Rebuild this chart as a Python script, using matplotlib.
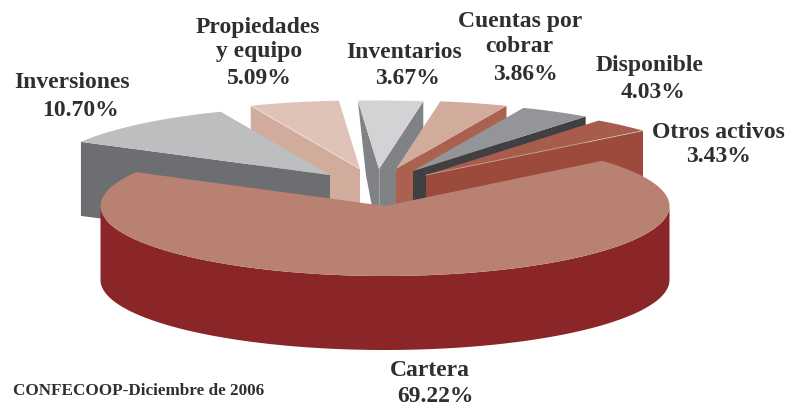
import numpy as np
import matplotlib
matplotlib.use("Agg")
import matplotlib.pyplot as plt

# valores de la grafica, en el orden de la torta
names = ["Cartera", "Otros activos", "Disponible", "Cuentas por\ncobrar",
         "Inventarios", "Propiedades\ny equipo", "Inversiones"]
values = [69.22, 3.43, 4.03, 3.86, 3.67, 5.09, 10.70]

top_colors = ["#B98171", "#A85C4C", "#939598", "#D1AC9D", "#D1D3D4", "#DFC3B9", "#BCBEC0"]
wall_colors = ["#8A2528", "#9B4A3C", "#404042", "#AB6150", "#808285", "#D1AC9D", "#6D6E71"]

# vertice de cada porcion (pixeles)
apex_x = [385, 426, 413, 396, 379, 360, 330]
apex_y = [206, 175, 171, 169, 169, 169, 175]

# centro de cada linea de texto: nombre(s) y luego porcentaje
label_pos = [
    [(430, 371), (436, 397)],
    [(718, 133), (719, 156)],
    [(650, 65), (653, 92)],
    [(520, 22), (519, 47), (525, 74)],
    [(404, 52), (408, 79)],
    [(258, 27), (259, 52), (259, 79)],
    [(72, 83), (81, 110)],
]

RX, RY = 284.5, 68.5
DEPTH = 74
START = 151.1

fig = plt.figure(figsize=(7.88, 4.07), dpi=100)
ax = fig.add_axes([0, 0, 1, 1])
ax.set_xlim(0, 788)
ax.set_ylim(407, 0)
ax.axis("off")

# angulos de inicio y fin a partir de los porcentajes
ends = START + np.cumsum(values) * 3.6
starts = np.concatenate([[START], ends[:-1]])


def arc(i, t0, t1, dy=0, ry=RY):
    t = np.radians(np.linspace(t0, t1, 120))
    return apex_x[i] + RX * np.cos(t), apex_y[i] + dy - ry * np.sin(t)


def wall(i, t, lean=0):
    x, y = arc(i, t, t)
    ax.fill([x[0], apex_x[i], apex_x[i], x[0] + lean],
            [y[0], apex_y[i], apex_y[i] + DEPTH, y[0] + DEPTH],
            color=wall_colors[i], lw=0)


# de atras hacia adelante (Inversiones tapa a Propiedades)
for i in [5, 6, 4, 3, 2, 1]:
    if i >= 4:
        # la pared de la izquierda se ve en el extremo final de la porcion
        wall(i, ends[i], lean=8 if i == 4 else 0)
    if i <= 4:
        wall(i, starts[i])
    x, y = arc(i, starts[i], ends[i])
    ax.fill(np.r_[apex_x[i], x], np.r_[apex_y[i], y], color=top_colors[i], lw=0)

# lineas claras entre tapa y pared
for i, t in [(5, ends[5]), (1, starts[1])]:
    x, y = arc(i, t, t)
    ax.plot([x[0], apex_x[i]], [y[0], apex_y[i]], color="white", lw=0.6, alpha=0.5)
ax.plot([apex_x[4], apex_x[4]], [apex_y[4], apex_y[4] + DEPTH], color="#A7A9AC", lw=0.6)

# porcion grande: lateral y tapa, por encima de todo lo demas
x, y = arc(0, 180, 360, ry=70)
xb, yb = arc(0, 360, 180, dy=DEPTH, ry=70)
ax.fill(np.r_[x, xb], np.r_[y, yb], color=wall_colors[0], lw=0, zorder=3)
x, y = arc(0, starts[0], ends[0], ry=70)
ax.fill(np.r_[apex_x[0], x], np.r_[apex_y[0], y], color=top_colors[0], lw=0, zorder=3)

font = dict(family="Liberation Serif", weight="bold", color="#2F2F2F",
            ha="center", va="center")
for name, val, pos in zip(names, values, label_pos):
    lines = name.split("\n") + [f"{val:.2f}%"]
    for line, (px, py) in zip(lines, pos):
        ax.text(px, py, line, fontsize=17, **font)

ax.text(13, 391, "CONFECOOP-Diciembre de 2006", family="Liberation Serif", weight="bold",
        color="#2F2F2F", ha="left", va="center", fontsize=12.3)

fig.savefig("out.png", dpi=100)
